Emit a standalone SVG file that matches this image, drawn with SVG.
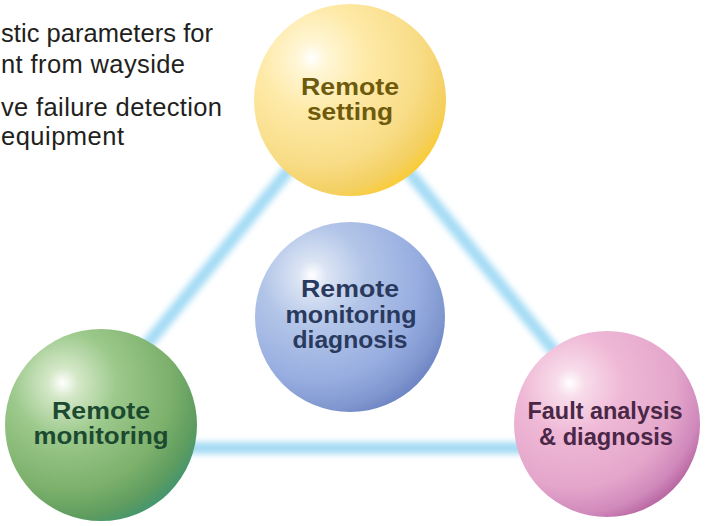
<svg xmlns="http://www.w3.org/2000/svg" width="705" height="526" viewBox="0 0 705 526">
  <defs>
    <filter id="glow" filterUnits="userSpaceOnUse" x="0" y="0" width="705" height="526">
      <feGaussianBlur stdDeviation="3.2"/>
    </filter>
    <radialGradient id="gYellow" cx="0.33" cy="0.3" r="0.78" fx="0.3" fy="0.28">
      <stop offset="0" stop-color="#ffffff"/>
      <stop offset="0.1" stop-color="#fff6d6"/>
      <stop offset="0.35" stop-color="#feeaa8"/>
      <stop offset="0.7" stop-color="#f8dc86"/>
      <stop offset="0.88" stop-color="#f4d062"/>
      <stop offset="1" stop-color="#fbcb2c"/>
    </radialGradient>
    <radialGradient id="gGreen" cx="0.33" cy="0.3" r="0.78" fx="0.3" fy="0.28">
      <stop offset="0" stop-color="#ffffff"/>
      <stop offset="0.1" stop-color="#d5e8c8"/>
      <stop offset="0.35" stop-color="#9cc98c"/>
      <stop offset="0.7" stop-color="#7cb06b"/>
      <stop offset="0.88" stop-color="#5e9c5f"/>
      <stop offset="1" stop-color="#3e9473"/>
    </radialGradient>
    <radialGradient id="gPink" cx="0.33" cy="0.3" r="0.78" fx="0.3" fy="0.28">
      <stop offset="0" stop-color="#ffffff"/>
      <stop offset="0.1" stop-color="#f8dcea"/>
      <stop offset="0.35" stop-color="#efb8d6"/>
      <stop offset="0.7" stop-color="#e4a6cb"/>
      <stop offset="0.88" stop-color="#d089bb"/>
      <stop offset="1" stop-color="#b35e9c"/>
    </radialGradient>
    <radialGradient id="gBlue" cx="0.33" cy="0.3" r="0.78" fx="0.3" fy="0.28">
      <stop offset="0" stop-color="#ffffff"/>
      <stop offset="0.1" stop-color="#dbe4f4"/>
      <stop offset="0.35" stop-color="#b2c5e8"/>
      <stop offset="0.7" stop-color="#97ade0"/>
      <stop offset="0.88" stop-color="#8097cf"/>
      <stop offset="1" stop-color="#6a80c2"/>
    </radialGradient>
  </defs>
  <style>
    .note { font-family: "Liberation Sans", Arial, sans-serif; font-size: 25.5px; fill: #231f20; }
    .lbl { font-family: "Liberation Sans", Arial, sans-serif; font-size: 24.5px; font-weight: bold; text-anchor: middle; }
    .conn { stroke: #a4dbf5; stroke-width: 12; stroke-linecap: round; fill: none; filter: url(#glow); }
  </style>

  <g id="notes">
    <text class="note" x="1" y="42" textLength="212" lengthAdjust="spacing">stic parameters for</text>
    <text class="note" x="1" y="73" textLength="184" lengthAdjust="spacing">nt from wayside</text>
    <text class="note" x="1" y="116" textLength="221" lengthAdjust="spacing">ve failure detection</text>
    <text class="note" x="1" y="145" textLength="123" lengthAdjust="spacing">equipment</text>
  </g>

  <g id="connectors">
    <line class="conn" x1="348" y1="97" x2="63" y2="448"/>
    <line class="conn" x1="348" y1="97" x2="633" y2="448"/>
    <line class="conn" x1="63" y1="448" x2="633" y2="448"/>
  </g>

  <g id="remote-setting">
    <circle cx="350" cy="100" r="96" fill="url(#gYellow)"/>
    <text class="lbl" fill="#6e5a0c" x="350" y="95" textLength="98" lengthAdjust="spacingAndGlyphs">Remote</text>
    <text class="lbl" fill="#6e5a0c" x="350" y="120" textLength="86" lengthAdjust="spacingAndGlyphs">setting</text>
  </g>

  <g id="remote-monitoring-diagnosis">
    <circle cx="350" cy="317" r="95" fill="url(#gBlue)"/>
    <text class="lbl" fill="#2a3a5e" x="350" y="297" textLength="98" lengthAdjust="spacingAndGlyphs">Remote</text>
    <text class="lbl" fill="#2a3a5e" x="351" y="323" textLength="131" lengthAdjust="spacingAndGlyphs">monitoring</text>
    <text class="lbl" fill="#2a3a5e" x="350" y="348" textLength="115" lengthAdjust="spacingAndGlyphs">diagnosis</text>
  </g>

  <g id="remote-monitoring">
    <circle cx="101" cy="425" r="96" fill="url(#gGreen)"/>
    <text class="lbl" fill="#1c4a30" x="101" y="419" textLength="98" lengthAdjust="spacingAndGlyphs">Remote</text>
    <text class="lbl" fill="#1c4a30" x="101" y="444" textLength="135" lengthAdjust="spacingAndGlyphs">monitoring</text>
  </g>

  <g id="fault-analysis">
    <circle cx="607" cy="424" r="93" fill="url(#gPink)"/>
    <text class="lbl" fill="#4a2747" x="605" y="419" textLength="155" lengthAdjust="spacingAndGlyphs">Fault analysis</text>
    <text class="lbl" fill="#4a2747" x="606" y="445" textLength="134" lengthAdjust="spacingAndGlyphs">&amp; diagnosis</text>
  </g>
</svg>
